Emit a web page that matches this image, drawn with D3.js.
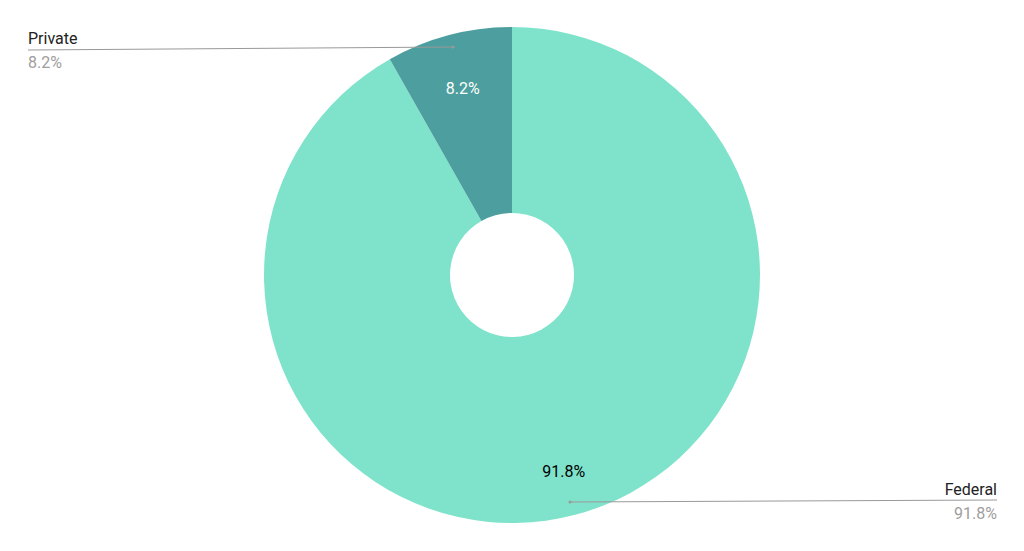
<!DOCTYPE html>
<html><head><meta charset="utf-8">
<script src="https://cdn.jsdelivr.net/npm/d3@7"></script>
<style>body{margin:0;background:#fff}text{font-family:Roboto,Arial,sans-serif}</style>
</head><body><svg id="c" width="1024" height="551"></svg>
<script>
const categories = ["Federal", "Private"];
const values = [91.8, 8.2];
const labels = ["91.8%", "8.2%"];
const colors = ["#7fe3cc", "#4d9e9e"];

const svg = d3.select("#c");
const cx = 512, cy = 275, R = 248, r = 62;
const g = svg.append("g").attr("transform", `translate(${cx},${cy})`);
const pie = d3.pie().sort(null).value(d => d)(values);
const arc = d3.arc().innerRadius(r).outerRadius(R);
g.selectAll("path").data(pie).enter().append("path")
  .attr("d", arc).attr("fill", (d,i) => colors[i]);

const inArc = d3.arc().innerRadius(R*0.78).outerRadius(R*0.78);
g.selectAll("text.in").data(pie).enter().append("text")
  .attr("transform", d => { const c = inArc.centroid(d); return `translate(${c})`; })
  .attr("text-anchor", "middle").attr("dy", "0.35em").attr("font-size", 16)
  .attr("fill", (d,i) => i === 1 ? "#fff" : "#000")
  .text((d,i) => labels[i]);

// override Federal label position to match reference style
g.selectAll("text").filter((d,i)=>i===0)
  .attr("transform", d => { const c = d3.arc().innerRadius(R*0.82).outerRadius(R*0.82).centroid(d); return `translate(${c})`; });

const ext = [
  {i:0, line:[[570,502],[997,500]], tx:997, anchor:"end", y1:495, y2:519},
  {i:1, line:[[28,50],[453,47]], tx:28, anchor:"start", y1:44, y2:68}
];
ext.forEach(e => {
  svg.append("path").attr("d", d3.line()(e.line)).attr("stroke", "#999").attr("fill","none");
  svg.append("circle").attr("cx", e.line[e.i===0?0:1][0]).attr("cy", e.line[e.i===0?0:1][1]).attr("r",1.5).attr("fill","#999");
  svg.append("text").attr("x", e.tx).attr("y", e.y1).attr("text-anchor", e.anchor)
    .attr("font-size", 16).attr("fill", "#222").text(categories[e.i]);
  svg.append("text").attr("x", e.tx).attr("y", e.y2).attr("text-anchor", e.anchor)
    .attr("font-size", 16).attr("fill", "#9e9e9e").text(labels[e.i]);
});
</script></body></html>
